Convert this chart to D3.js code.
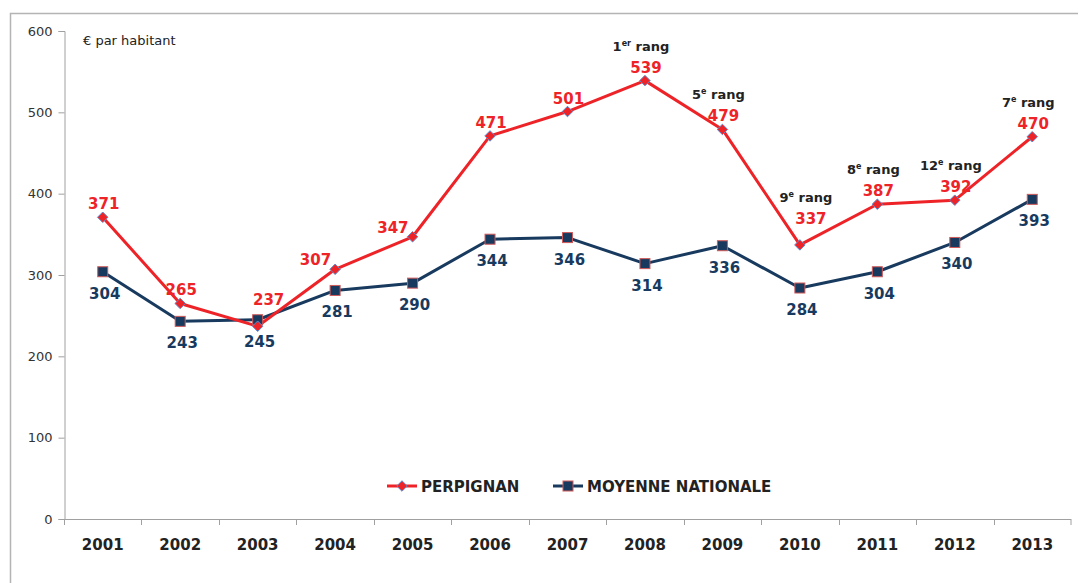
<!DOCTYPE html>
<html>
<head>
  <meta charset="utf-8">
  <script src="https://cdn.jsdelivr.net/npm/d3@7"></script>
  <style>
    body { margin: 0; background: #fff; }
    text { font-family: "DejaVu Sans", sans-serif; }
  </style>
</head>
<body>
<svg width="1079" height="583"></svg>

<script type="text/javascript">

// chart values
var years = ["2001", "2002", "2003", "2004", "2005", "2006", "2007",
             "2008", "2009", "2010", "2011", "2012", "2013"];
var perpignan = [371, 265, 237, 307, 347, 471, 501, 539, 479, 337, 387, 392, 470];
var nationale = [304, 243, 245, 281, 290, 344, 346, 314, 336, 284, 304, 340, 393];
var ranks = ["", "", "", "", "", "", "", "1er", "5e", "9e", "8e", "12e", "7e"];
var yTicks = [0, 100, 200, 300, 400, 500, 600];
var seriesNames = ["PERPIGNAN", "MOYENNE NATIONALE"];

// label placement tweaks: red label to the left of the point, or lifted higher
var leftLabelYears = ["2004", "2005"];
var raisedLabelYears = ["2003", "2010"];

var red = "#ee2328", navy = "#183a5e";

var svg = d3.select("svg");

// frame round the chart (top and left edges only show)
svg.append("path")
    .attr("d", "M10.5,583 L10.5,13.5 L1078,13.5")
    .attr("fill", "none")
    .attr("stroke", "#b4b4b4")
    .attr("stroke-width", 1.5);

var x = d3.scaleBand().domain(years).range([64, 1071]).padding(0);
var y = d3.scaleLinear().domain([0, 600]).range([519, 31]);
var cx = function(yr) { return x(yr) + x.bandwidth() / 2; };
var isLeft = function(i) { return leftLabelYears.indexOf(years[i]) >= 0; };
var lift = function(i) { return raisedLabelYears.indexOf(years[i]) >= 0 ? 13 : 0; };
var shift = function(i) { return raisedLabelYears.indexOf(years[i]) >= 0 ? 10 : 0; };

// y axis
var yAxis = svg.append("g")
    .attr("transform", "translate(64.5,0)")
    .call(d3.axisLeft(y).tickValues(yTicks).tickSize(6).tickPadding(6));
yAxis.select(".domain").attr("stroke", "#a0a0a0");
yAxis.selectAll(".tick line").attr("stroke", "#a0a0a0");
yAxis.selectAll(".tick text")
    .attr("fill", "#333")
    .style("font-size", "13px")
    .style("font-family", "DejaVu Sans, sans-serif");

// x axis: line, ticks on the category boundaries, labels in the middle
svg.append("line")
    .attr("x1", 64).attr("x2", 1071)
    .attr("y1", 519.5).attr("y2", 519.5)
    .attr("stroke", "#a0a0a0");
svg.selectAll(".xtick")
    .data(years.concat(["end"]))
  .enter()
  .append("line")
    .attr("class", "xtick")
    .attr("x1", function(d) { return d === "end" ? 1071 : Math.round(x(d)) + 0.5; })
    .attr("x2", function(d) { return d === "end" ? 1071 : Math.round(x(d)) + 0.5; })
    .attr("y1", 519).attr("y2", 525)
    .attr("stroke", "#a0a0a0");

var xAxis = svg.append("g")
    .attr("transform", "translate(0,519)")
    .call(d3.axisBottom(x).tickSize(0).tickPadding(20));
xAxis.select(".domain").remove();
xAxis.selectAll(".tick text")
    .attr("fill", "#222")
    .style("font-size", "15px")
    .style("font-weight", "bold")
    .style("font-family", "DejaVu Sans, sans-serif");

svg.append("text")
    .attr("x", 83).attr("y", 45)
    .attr("fill", "#222")
    .style("font-size", "13px")
    .text("\u20ac par habitant");

var line = d3.line()
    .x(function(d, i) { return cx(years[i]); })
    .y(function(d) { return y(d); });

// national average
svg.append("path")
    .datum(nationale)
    .attr("d", line)
    .attr("fill", "none")
    .attr("stroke", navy)
    .attr("stroke-width", 3)
    .attr("stroke-linejoin", "round");

// perpignan
svg.append("path")
    .datum(perpignan)
    .attr("d", line)
    .attr("fill", "none")
    .attr("stroke", red)
    .attr("stroke-width", 3)
    .attr("stroke-linejoin", "round");

svg.selectAll(".sq")
    .data(nationale)
  .enter()
  .append("rect")
    .attr("class", "sq")
    .attr("x", function(d, i) { return cx(years[i]) - 5; })
    .attr("y", function(d) { return y(d) - 5; })
    .attr("width", 10).attr("height", 10)
    .attr("fill", navy)
    .attr("stroke", "#d05a5a")
    .attr("stroke-width", 1);

svg.selectAll(".dia")
    .data(perpignan)
  .enter()
  .append("path")
    .attr("class", "dia")
    .attr("d", d3.symbol().type(d3.symbolDiamond2).size(70))
    .attr("transform", function(d, i) { return "translate(" + cx(years[i]) + "," + y(d) + ")"; })
    .attr("fill", red)
    .attr("stroke", "#5b8bd0")
    .attr("stroke-width", 1);

// value labels
svg.selectAll(".navylab")
    .data(nationale)
  .enter()
  .append("text")
    .attr("class", "navylab")
    .attr("x", function(d, i) { return cx(years[i]) + 2; })
    .attr("y", function(d) { return y(d) + 27; })
    .attr("text-anchor", "middle")
    .attr("fill", navy)
    .style("font-size", "15px")
    .style("font-weight", "bold")
    .text(function(d) { return d; });

svg.selectAll(".redlab")
    .data(perpignan)
  .enter()
  .append("text")
    .attr("class", "redlab")
    .attr("x", function(d, i) {
      return isLeft(i) ? cx(years[i]) - 4 : cx(years[i]) + 1 + shift(i);
    })
    .attr("y", function(d, i) {
      return isLeft(i) ? y(d) - 4 : y(d) - 8 - lift(i);
    })
    .attr("text-anchor", function(d, i) { return isLeft(i) ? "end" : "middle"; })
    .attr("fill", red)
    .style("font-size", "15px")
    .style("font-weight", "bold")
    .text(function(d) { return d; });

// rank notes above the red labels
var rankText = svg.selectAll(".rank")
    .data(ranks.map(function(r, i) { return { r: r, i: i }; })
               .filter(function(d) { return d.r !== ""; }))
  .enter()
  .append("text")
    .attr("class", "rank")
    .attr("x", function(d) { return cx(years[d.i]) - 4 + shift(d.i); })
    .attr("y", function(d) { return y(perpignan[d.i]) - 30 - lift(d.i); })
    .attr("text-anchor", "middle")
    .attr("fill", "#222")
    .style("font-size", "13px")
    .style("font-weight", "bold");
rankText.append("tspan").text(function(d) { return d.r.match(/\d+/)[0]; });
rankText.append("tspan")
    .attr("dy", -5)
    .style("font-size", "8px")
    .text(function(d) { return d.r.replace(/\d+/, ""); });
rankText.append("tspan")
    .attr("dy", 5)
    .text(" rang");

// legend
var legend = svg.append("g").attr("transform", "translate(387,486)");
var legendItems = legend.selectAll("g")
    .data(seriesNames)
  .enter()
  .append("g")
    .attr("transform", function(d, i) { return "translate(" + (i * 166) + ",0)"; });
legendItems.append("line")
    .attr("x1", 0).attr("x2", 30)
    .attr("stroke", function(d, i) { return i === 0 ? red : navy; })
    .attr("stroke-width", 3);
legendItems.filter(function(d, i) { return i === 0; })
  .append("path")
    .attr("d", d3.symbol().type(d3.symbolDiamond2).size(70))
    .attr("transform", "translate(15,0)")
    .attr("fill", red)
    .attr("stroke", "#5b8bd0");
legendItems.filter(function(d, i) { return i === 1; })
  .append("rect")
    .attr("x", 10).attr("y", -5)
    .attr("width", 10).attr("height", 10)
    .attr("fill", navy)
    .attr("stroke", "#d05a5a");
legendItems.append("text")
    .attr("x", 34).attr("y", 5.5)
    .attr("fill", "#222")
    .style("font-size", "15px")
    .style("font-weight", "bold")
    .text(function(d) { return d; });
</script>

</body>
</html>
